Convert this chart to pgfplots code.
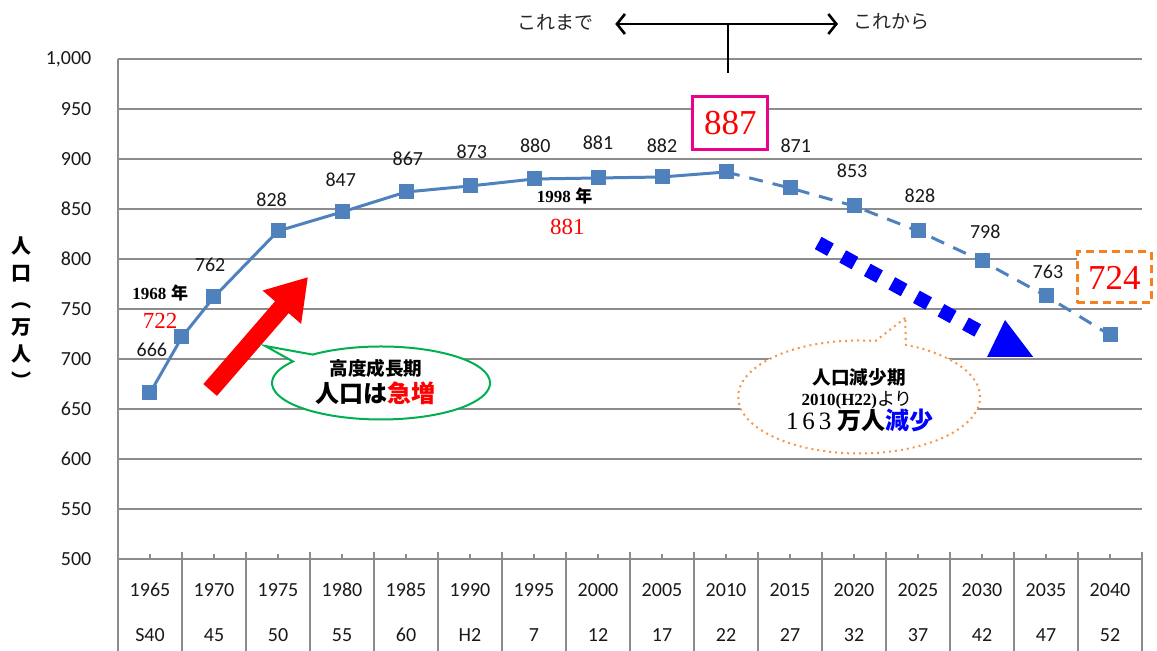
\documentclass[border=0pt]{standalone}
\usepackage{fontspec}
\setmainfont{Carlito}
\newfontfamily\jp{Noto Sans CJK JP}
\newfontfamily\serif{Liberation Serif}
\usepackage{pgfplots}
\pgfplotsset{compat=1.18}
\usetikzlibrary{shapes.callouts,arrows.meta}
\definecolor{lineblue}{HTML}{4F81BD}
\definecolor{gridgray}{HTML}{8C8C8C}
\definecolor{callgreen}{HTML}{00B050}
\definecolor{callorange}{HTML}{F79646}
\definecolor{boxorange}{HTML}{F58220}
\begin{document}
\begin{tikzpicture}
\path[use as bounding box] (-59pt,-46pt) rectangle (519.5pt,279.5pt);
\begin{axis}[
  scale only axis, width=512pt, height=250pt,
  xmin=-0.5, xmax=15.5, ymin=500, ymax=1000,
  axis x line*=bottom, axis y line*=left,
  axis line style={gridgray, line width=0.7pt},
  ytick={500,550,...,1000},
  ymajorgrids, major grid style={gridgray, line width=0.7pt},
  ytick style={draw=none},
  yticklabel style={xshift=-9.8pt},
  xtick={0,...,15},
  xticklabels={{1965\\[10.5pt]S40},{1970\\[10.5pt]45},{1975\\[10.5pt]50},{1980\\[10.5pt]55},{1985\\[10.5pt]60},{1990\\[10.5pt]H2},{1995\\[10.5pt]7},{2000\\[10.5pt]12},{2005\\[10.5pt]17},{2010\\[10.5pt]22},{2015\\[10.5pt]27},{2020\\[10.5pt]32},{2025\\[10.5pt]37},{2030\\[10.5pt]42},{2035\\[10.5pt]47},{2040\\[10.5pt]52}},
  xticklabel style={align=center, anchor=north, yshift=-8.6pt},
  tick align=inside,
  xtick style={gridgray, line width=0.7pt},
  major tick length=2.5pt,
  minor xtick={-0.5,0.5,...,15.5},
  minor tick length=3.5pt,
  extra x ticks={-0.5,0.5,...,15.5},
  extra x tick labels={},
  extra x tick style={tick align=outside, major tick length=46pt, xtick style={gridgray, line width=0.7pt}},
  /pgf/number format/assume math mode=true,
  /pgf/number format/1000 sep={,},
  tick label style={font=\fontsize{10}{12}\selectfont, text=black!90},
  clip=false,
]
% solid historical part
\addplot[color=lineblue, line width=1.5pt, mark=square*, mark size=3pt, mark options={fill=lineblue}]
  coordinates {(0,666) (0.5,722) (1,762) (2,828) (3,847) (4,867) (5,873) (6,880) (7,881) (8,882) (9,887)};
% projected part
\addplot[color=lineblue, line width=1.5pt, dash pattern=on 7pt off 5pt, mark=square*, mark size=3pt, mark options={solid, fill=lineblue}]
  coordinates {(9,887) (10,871) (11,853) (12,828) (13,798) (14,763) (15,724)};

% data labels
\begin{scope}[every node/.style={font=\fontsize{10}{12}\selectfont, text=black!90}]
\node at (axis cs:0.03,709) {666};
\node at (axis cs:0.94,794) {762};
\node at (axis cs:1.9,859) {828};
\node at (axis cs:2.98,879) {847};
\node at (axis cs:4.03,900) {867};
\node at (axis cs:5.03,907) {873};
\node at (axis cs:6.02,913) {880};
\node at (axis cs:7,916) {881};
\node at (axis cs:8,913) {882};
\node at (axis cs:10.09,913) {871};
\node at (axis cs:10.97,888) {853};
\node at (axis cs:12.03,863) {828};
\node at (axis cs:13.05,827) {798};
\node at (axis cs:14.03,787) {763};
\end{scope}

% 1968 and 1998 annotations
\node[fill=white, inner sep=1pt] at (axis cs:0.16,766) {{\serif\bfseries\fontsize{8.5}{10}\selectfont 1968} {\jp\bfseries\fontsize{8.5}{10}\selectfont 年}};
\node[fill=white, inner sep=1pt, text=red] at (axis cs:0.16,738) {\serif\fontsize{11.5}{13}\selectfont 722};
\node at (axis cs:6.48,863) {{\serif\bfseries\fontsize{8.5}{10}\selectfont 1998} {\jp\bfseries\fontsize{8.5}{10}\selectfont 年}};
\node[fill=white, inner sep=1pt, text=red] at (axis cs:6.52,832) {\serif\fontsize{11.5}{13}\selectfont 881};

% boxes 887 and 724
\node[draw=magenta, line width=1.5pt, fill=white, minimum width=37.5pt, minimum height=26.5pt, inner sep=0pt, text=red]
  at (axis cs:9.07,935.5) {\serif\fontsize{17.5}{19}\selectfont 887};
\node[draw=boxorange, line width=1.5pt, dash pattern=on 4pt off 2.5pt, fill=white, minimum width=37pt, minimum height=25.5pt, inner sep=0pt, text=red]
  at (axis cs:15.07,781.5) {\serif\fontsize{17.5}{19}\selectfont 724};

% top arrows
\draw[line width=1.3pt, {Straight Barb[length=4pt,width=10pt]}-{Straight Barb[length=4pt,width=10pt]}] (axis cs:7.27,1035) -- (axis cs:10.75,1035);
\draw[line width=1.3pt] (axis cs:9.03,1035) -- (axis cs:9.03,986);
\node[font=\jp\fontsize{9.5}{11}\selectfont, text=black!85] at (axis cs:6.33,1037) {これまで};
\node[font=\jp\fontsize{9.5}{11}\selectfont, text=black!85] at (axis cs:11.59,1037) {これから};

% red arrow
\draw[red, line width=9pt, -{Triangle[length=20pt,width=24pt]}] (axis cs:0.94,669) -- (axis cs:2.47,782);

% green callout
\node[ellipse callout, draw=callgreen, line width=1pt, fill=white, minimum width=109pt, minimum height=36.5pt,
  callout absolute pointer={(axis cs:1.80,713)}] at (axis cs:3.61,676) {};
\node[font=\jp\bfseries\fontsize{9.3}{11}\selectfont] at (axis cs:3.53,691) {高度成長期};
\node[font=\jp\bfseries\fontsize{12}{14}\selectfont] at (axis cs:3.53,666) {人口は{\color{red}急増}};

% blue dotted arrow
\draw[blue, line width=7pt, dash pattern=on 7pt off 7pt] (axis cs:10.44,816) -- (axis cs:13.12,722);
\fill[blue] (axis cs:13.36,739) -- (axis cs:13.08,702) -- (axis cs:13.80,702) -- cycle;

% orange callout
\node[ellipse callout, draw=callorange, line width=1pt, dotted, fill=white, minimum width=121pt, minimum height=56.5pt,
  callout absolute pointer={(axis cs:11.80,741)}] at (axis cs:11.08,662) {};
\node[font=\jp\bfseries\fontsize{9.3}{11}\selectfont] at (axis cs:11.08,682) {人口減少期};
\node at (axis cs:11.05,659) {{\serif\bfseries\fontsize{8.5}{10}\selectfont 2010(H22)}{\jp\fontsize{9}{10}\selectfont より}};
\node at (axis cs:11.09,639) {{\serif\fontsize{12.5}{14}\selectfont 1\hspace{2pt}6\hspace{2pt}3}\hspace{3pt}{\jp\bfseries\fontsize{12}{14}\selectfont 万人{\color{blue}減少}}};
\end{axis}
% y axis label
\node[font=\jp\bfseries\fontsize{10}{13.5}\selectfont, align=center] at (-48pt,123pt) {人\\口\\︵\\万\\人\\︶};
\end{tikzpicture}
\end{document}
